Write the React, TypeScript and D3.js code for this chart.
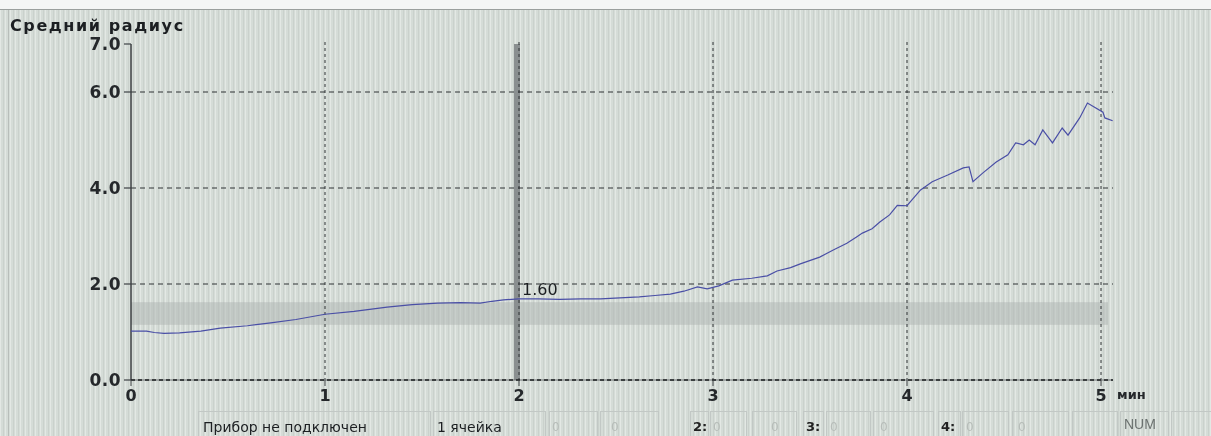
import React from "react";
import * as d3 from "d3";

// время, мин
const time = [
  0.0, 0.08, 0.12, 0.17, 0.25, 0.36, 0.46, 0.6, 0.72, 0.85, 1.0, 1.15, 1.32, 1.45, 1.58, 1.7, 1.8, 1.86, 1.92, 2.0,
  2.1, 2.21, 2.32, 2.42, 2.52, 2.62, 2.7, 2.78, 2.85, 2.92, 2.97, 3.03, 3.1, 3.2, 3.28, 3.33, 3.4, 3.45, 3.55, 3.62,
  3.69, 3.74, 3.77, 3.82, 3.86, 3.91, 3.95, 4.0, 4.04, 4.07, 4.13, 4.21, 4.29, 4.32, 4.34, 4.39, 4.46, 4.52, 4.56,
  4.6, 4.63, 4.66, 4.7, 4.75, 4.8, 4.83, 4.89, 4.93, 5.01, 5.02, 5.06,
];
// средний радиус
const radius = [
  1.02, 1.02, 0.99, 0.97, 0.98, 1.02, 1.08, 1.13, 1.19, 1.26, 1.37, 1.43, 1.52, 1.57, 1.6, 1.61, 1.6, 1.64, 1.67, 1.69,
  1.69, 1.68, 1.69, 1.69, 1.71, 1.73, 1.76, 1.79, 1.85, 1.94, 1.9, 1.96, 2.08, 2.12, 2.17, 2.27, 2.34, 2.42, 2.56, 2.71,
  2.85, 2.98, 3.06, 3.15, 3.29, 3.44, 3.64, 3.63, 3.82, 3.96, 4.13, 4.27, 4.42, 4.44, 4.13, 4.31, 4.54, 4.69, 4.94,
  4.9, 5.0, 4.9, 5.21, 4.94, 5.25, 5.1, 5.46, 5.77, 5.58, 5.46, 5.4,
];

const xTicks = [0, 1, 2, 3, 4, 5];
const yTickLabels = [0, 2, 4, 6, 7];
const yGrid = [2, 4, 6];
const normBand = [1.15, 1.62];
const cursorTime = 2;
const cursorLabel = "1.60";
const statusLabels = ["Прибор не подключен", "1 ячейка", "2:", "3:", "4:", "NUM"];

const W = 1211;
const H = 436;

export default function App() {
  const x = d3.scaleLinear().domain([0, 5]).range([131, 1101]);
  const y = d3.scaleLinear().domain([0, 7]).range([380, 44]);
  const right = 1113;

  const points: [number, number][] = time.map((t, i) => [t, radius[i]]);
  const line = d3
    .line<[number, number]>()
    .x((d) => x(d[0]))
    .y((d) => y(d[1]));

  const font = "'DejaVu Sans', sans-serif";

  // ячейки строки состояния
  const cells = [
    { x: 198, w: 232 },
    { x: 433, w: 112 },
    { x: 549, w: 48 },
    { x: 600, w: 58 },
    { x: 690, w: 18 },
    { x: 710, w: 36 },
    { x: 752, w: 44 },
    { x: 803, w: 20 },
    { x: 826, w: 44 },
    { x: 873, w: 60 },
    { x: 938, w: 22 },
    { x: 962, w: 46 },
    { x: 1012, w: 56 },
    { x: 1072, w: 45 },
    { x: 1120, w: 48 },
    { x: 1171, w: 40 },
  ];

  return (
    <svg
      width={W}
      height={H}
      style={{ position: "fixed", left: 0, top: 0, display: "block" }}
    >
      <defs>
        <pattern id="stripes" width="5" height="10" patternUnits="userSpaceOnUse">
          <rect width="5" height="10" fill="#d5dcd7" />
          <rect x="0" width="1" height="10" fill="#e3e8e4" />
          <rect x="3" width="1" height="10" fill="#cad1cc" />
        </pattern>
      </defs>
      <rect width={W} height={H} fill="url(#stripes)" />
      <rect width={W} height={9} fill="#f4f6f5" />
      <line x1={0} x2={W} y1={9.5} y2={9.5} stroke="#9aa09d" />
      <line x1={8.5} x2={8.5} y1={10} y2={H} stroke="#b8beba" />

      <text x={10} y={31} fontFamily={font} fontWeight="bold" fontSize={16} letterSpacing={1.6} fill="#1c1f22">
        Средний радиус
      </text>

      {/* полоса нормы */}
      <rect
        x={x(0)}
        y={y(normBand[1])}
        width={1108 - x(0)}
        height={y(normBand[0]) - y(normBand[1])}
        fill="#aeb4b2"
        opacity={0.5}
      />

      {/* курсор */}
      <rect x={x(cursorTime) - 5} y={y(7)} width={6} height={y(0) - y(7)} fill="#8a8f90" />

      {/* сетка */}
      {yGrid.map((v) => (
        <line
          key={"h" + v}
          x1={x(0)}
          x2={right}
          y1={y(v)}
          y2={y(v)}
          stroke="#2f3234"
          strokeDasharray="5 4"
        />
      ))}
      {xTicks.slice(1).map((t) => (
        <line
          key={"v" + t}
          x1={x(t)}
          x2={x(t)}
          y1={y(7) - 2}
          y2={y(0)}
          stroke="#2f3234"
          strokeDasharray="3 3"
        />
      ))}

      {/* оси */}
      <line x1={x(0)} x2={x(0)} y1={y(7)} y2={y(0)} stroke="#3c4043" strokeWidth={1.5} />
      <line x1={x(0)} x2={right} y1={y(0)} y2={y(0)} stroke="#6a6f71" strokeWidth={1} />
      <line x1={x(0)} x2={right} y1={y(0)} y2={y(0)} stroke="#1d1f21" strokeWidth={1.5} strokeDasharray="4 3" />

      {yTickLabels.map((v) => (
        <g key={"yl" + v}>
          <line x1={x(0) - 7} x2={x(0)} y1={y(v)} y2={y(v)} stroke="#3c4043" strokeWidth={1.2} />
          <text
            x={x(0) - 10}
            y={y(v) + 6}
            textAnchor="end"
            fontFamily={font}
            fontWeight="bold"
            fontSize={17}
            letterSpacing={0.5}
            fill="#25282b"
          >
            {d3.format(".1f")(v)}
          </text>
        </g>
      ))}

      {xTicks.map((t) => (
        <g key={"xl" + t}>
          <line x1={x(t)} x2={x(t)} y1={y(0)} y2={y(0) + 6} stroke="#3c4043" />
          <text
            x={x(t)}
            y={y(0) + 21}
            textAnchor="middle"
            fontFamily={font}
            fontWeight="600"
            fontSize={16}
            fill="#25282b"
          >
            {t}
          </text>
        </g>
      ))}
      <text x={1117} y={y(0) + 19} fontFamily={font} fontWeight="bold" fontSize={13} fill="#25282b">
        мин
      </text>

      {/* кривая */}
      <path d={line(points) ?? ""} fill="none" stroke="#4a4fa6" strokeWidth={1.2} />

      <text x={x(cursorTime) + 3} y={y(1.69) - 4} fontFamily={font} fontSize={16} fill="#1c1f22">
        {cursorLabel}
      </text>

      {/* строка состояния */}
      {cells.map((c, i) => (
        <rect
          key={"c" + i}
          x={c.x + 0.5}
          y={411.5}
          width={c.w}
          height={30}
          fill="none"
          stroke="#c2c8c5"
        />
      ))}
      <text x={203} y={432} fontFamily={font} fontSize={14} fill="#1c1f22">
        {statusLabels[0]}
      </text>
      <text x={437} y={432} fontFamily={font} fontSize={14} fill="#1c1f22">
        {statusLabels[1]}
      </text>
      {[
        { x: 693, s: statusLabels[2] },
        { x: 806, s: statusLabels[3] },
        { x: 941, s: statusLabels[4] },
      ].map((d) => (
        <text key={d.s} x={d.x} y={431} fontFamily={font} fontWeight="bold" fontSize={13} fill="#222">
          {d.s}
        </text>
      ))}
      {[552, 611, 713, 771, 830, 880, 966, 1018].map((px, i) => (
        <text key={"z" + i} x={px} y={431} fontFamily={font} fontSize={12} fill="#b7bdb9">
          0
        </text>
      ))}
      <text x={1124} y={429} fontFamily="'Liberation Sans', sans-serif" fontSize={14} fill="#6c7270">
        {statusLabels[5]}
      </text>
    </svg>
  );
}
